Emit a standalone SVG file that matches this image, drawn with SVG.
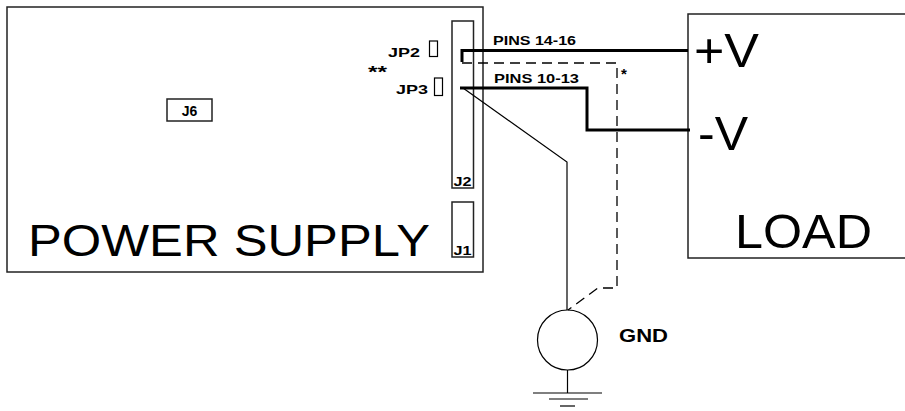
<svg xmlns="http://www.w3.org/2000/svg" width="905" height="411" viewBox="0 0 905 411">
<style>
.box{fill:none;stroke:#222;stroke-width:1.5}
.thin{fill:none;stroke:#000;stroke-width:1.2}
.thick{fill:none;stroke:#000;stroke-width:3}
.dash{fill:none;stroke:#000;stroke-width:1.3;stroke-dasharray:10,6}
.big{font-family:"Liberation Sans",Arial,sans-serif;font-size:49px;fill:#000}
.lbl{font-family:"Liberation Sans",Arial,sans-serif;font-weight:bold;font-size:13px;fill:#000}
</style>
<rect width="905" height="411" fill="#fff"/>
<g id="power-supply">
<rect class="box" x="7" y="7" width="476" height="265"/>
<text class="big" x="28" y="256" style="font-size:44px" textLength="402" lengthAdjust="spacingAndGlyphs">POWER SUPPLY</text>
</g>
<g id="J6">
<rect class="box" x="167" y="99" width="45" height="22"/>
<text class="lbl" x="189.5" y="116" text-anchor="middle" style="font-size:14px">J6</text>
</g>
<g id="J2">
<rect class="box" x="452" y="21" width="21.5" height="167"/>
<text class="lbl" x="453.5" y="186" style="font-size:13px" textLength="18" lengthAdjust="spacingAndGlyphs">J2</text>
</g>
<g id="J1">
<rect class="box" x="452" y="202" width="21.5" height="55"/>
<text class="lbl" x="453.5" y="255" style="font-size:13px" textLength="18" lengthAdjust="spacingAndGlyphs">J1</text>
</g>
<g id="JP2">
<rect class="thin" x="429.5" y="41" width="8" height="15.5"/>
<text class="lbl" x="388" y="57" textLength="32" lengthAdjust="spacingAndGlyphs">JP2</text>
</g>
<g id="JP3">
<rect class="thin" x="434.5" y="78" width="8" height="17.5"/>
<text class="lbl" x="396" y="94" textLength="32" lengthAdjust="spacingAndGlyphs">JP3</text>
<text class="lbl" x="368" y="78" style="font-size:16px" textLength="19" lengthAdjust="spacingAndGlyphs">**</text>
</g>
<g id="load">
<rect class="box" x="688" y="14" width="240" height="244"/>
<text class="big" x="694" y="67" textLength="65" lengthAdjust="spacingAndGlyphs">+V</text>
<text class="big" x="698" y="150" textLength="50" lengthAdjust="spacingAndGlyphs">-V</text>
<text class="big" x="735" y="248" textLength="137" lengthAdjust="spacingAndGlyphs">LOAD</text>
</g>
<g id="gnd">
<circle class="thin" cx="567.5" cy="340" r="30"/>
<line class="thin" x1="567.5" y1="370" x2="567.5" y2="393"/>
<line class="thin" x1="533" y1="393" x2="602" y2="393"/>
<line class="thin" x1="549" y1="399" x2="588" y2="399"/>
<line class="thin" x1="560" y1="406" x2="575" y2="406"/>
<text class="lbl" x="619" y="342" style="font-size:19px" textLength="49" lengthAdjust="spacingAndGlyphs">GND</text>
</g>
<g id="connectors">
<path class="thick" d="M462,62 V50.5 H688"/>
<path class="thick" d="M460,88 H587 V130 H690"/>
<path class="thin" d="M463,88 L567,162 V310"/>
<path class="dash" d="M462,63 H617 V288 H598 L568,310"/>
<text class="lbl" x="493" y="45" textLength="83" lengthAdjust="spacingAndGlyphs">PINS 14-16</text>
<text class="lbl" x="494" y="83" textLength="85" lengthAdjust="spacingAndGlyphs">PINS 10-13</text>
<text class="lbl" x="621" y="79" style="font-size:15px">*</text>
</g>
</svg>
